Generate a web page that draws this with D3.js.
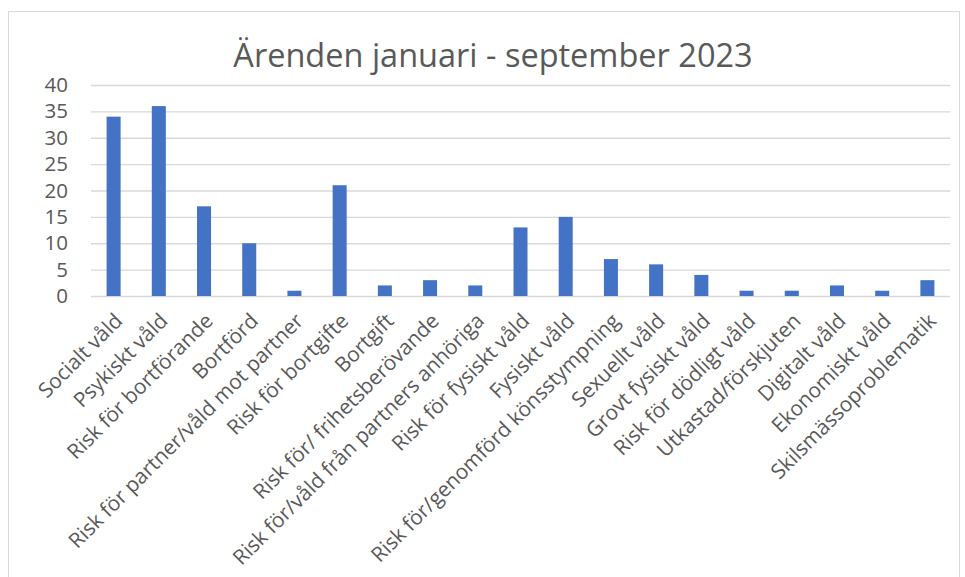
<!DOCTYPE html>
<html>
<head>
<meta charset="utf-8">
<script src="https://cdn.jsdelivr.net/npm/d3@7"></script>
<style>
html,body{margin:0;padding:0;background:#fff;}
svg text{font-family:"Open Sans",sans-serif;fill:#595959;}
</style>
</head>
<body>
<svg id="c" width="965" height="577"></svg>
<script>
const title = "Ärenden januari - september 2023";
const categories = ["Socialt våld","Psykiskt våld","Risk för bortförande","Bortförd","Risk för partner/våld mot partner","Risk för bortgifte","Bortgift","Risk för/ frihetsberövande","Risk för/våld från partners anhöriga","Risk för fysiskt våld","Fysiskt våld","Risk för/genomförd könsstympning","Sexuellt våld","Grovt fysiskt våld","Risk för dödligt våld","Utkastad/förskjuten","Digitalt våld","Ekonomiskt våld","Skilsmässoproblematik"];
const values = [34,36,17,10,1,21,2,3,2,13,15,7,6,4,1,1,2,1,3];
const yTicks = [0,5,10,15,20,25,30,35,40];

const svg = d3.select("#c");
// chart border
svg.append("rect").attr("x",8.5).attr("y",11.5).attr("width",951).attr("height",600)
  .attr("fill","none").attr("stroke","#d9d9d9").attr("stroke-width",1);

const m = {left:91, right:950, top:85, bottom:296};
const x = d3.scaleBand().domain(categories).range([m.left,m.right]).paddingInner(0.69).paddingOuter(0.345);
const y = d3.scaleLinear().domain([0,40]).range([m.bottom,m.top]);

// gridlines
svg.append("g").selectAll("line").data(yTicks).join("line")
  .attr("x1",m.left).attr("x2",m.right)
  .attr("y1",d=>y(d)+0.5).attr("y2",d=>y(d)+0.5)
  .attr("stroke","#d9d9d9").attr("stroke-width",1.3);

// y axis labels
const ya = svg.append("g").attr("transform",`translate(${m.left},0)`)
  .call(d3.axisLeft(y).tickValues(yTicks).tickSize(0).tickPadding(23));
ya.select(".domain").remove();
ya.selectAll("text").attr("font-size",20.5).attr("fill","#595959").attr("font-family","Open Sans, sans-serif");

// bars
svg.append("g").selectAll("rect").data(values).join("rect")
  .attr("x",(d,i)=>x(categories[i]))
  .attr("width",x.bandwidth())
  .attr("y",d=>y(d))
  .attr("height",d=>y(0)-y(d))
  .attr("fill","#4472c4");

// x axis labels
const xa = svg.append("g").attr("transform",`translate(0,${m.bottom})`)
  .call(d3.axisBottom(x).tickSize(0).tickPadding(0));
xa.select(".domain").remove();
xa.selectAll("text")
  .attr("font-size",20.8).attr("fill","#595959").attr("font-family","Open Sans, sans-serif")
  .attr("text-anchor","end")
  .attr("transform","translate(5,21) rotate(-45)")
  .attr("dy","0.35em").attr("y",0).attr("x",0);

// title
svg.append("text").attr("x",493).attr("y",67).attr("text-anchor","middle")
  .attr("font-size",32.5).attr("fill","#595959").text(title);
</script>
</body>
</html>
